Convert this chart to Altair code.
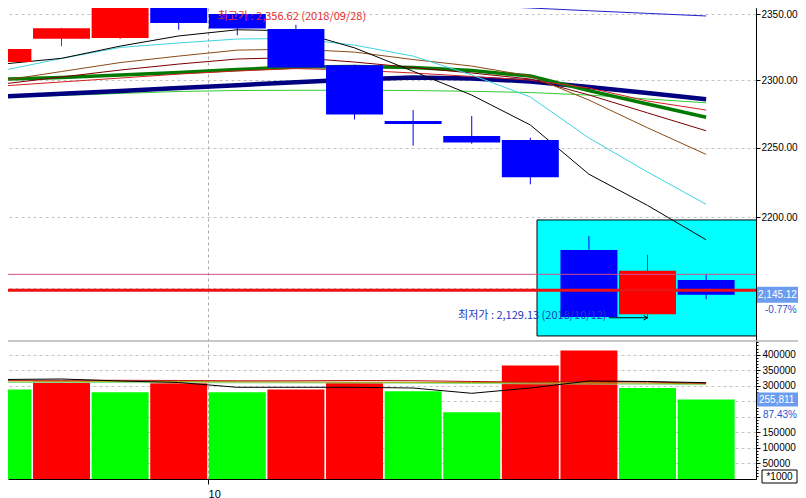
import altair as alt
import pandas as pd

# ---------------- data ----------------
dates = ["2018-09-20", "2018-09-21", "2018-09-27", "2018-09-28", "2018-10-01",
         "2018-10-02", "2018-10-04", "2018-10-05", "2018-10-08", "2018-10-10",
         "2018-10-11", "2018-10-12", "2018-10-15"]
open_p = [2313.6, 2331.2, 2331.7, 2355.0, 2350.0, 2338.6, 2311.2, 2269.7, 2258.7, 2255.7, 2176.5, 2131.5, 2155.4]
high_p = [2334.0, 2339.5, 2355.6, 2356.62, 2350.5, 2341.8, 2311.5, 2277.8, 2273.4, 2257.4, 2186.4, 2173.1, 2159.4]
low_p = [2312.1, 2325.5, 2331.0, 2338.0, 2333.8, 2309.0, 2270.9, 2251.6, 2253.0, 2223.5, 2129.67, 2129.13, 2141.9]
close_p = [2323.4, 2339.17, 2355.43, 2343.07, 2338.88, 2309.57, 2274.49, 2267.52, 2253.83, 2228.61, 2129.67, 2161.85, 2145.12]
volume = [288150, 313900, 279500, 308400, 279500, 288200, 309700, 282700, 215100, 365400, 413700, 292600, 255811]
vol_dir = ["down", "up", "down", "up", "down", "up", "up", "down", "down", "up", "up", "down", "down"]

ma_blue = [2373.3, 2371.2, 2369.2, 2367.1, 2365.0, 2363.0, 2360.9, 2358.8, 2356.7, 2354.6, 2352.5, 2350.5, 2348.5]
ma_lgreen = [2287.5, 2288.6, 2290.1, 2291.6, 2292.3, 2292.5, 2292.5, 2292.3, 2291.7, 2290.8, 2288.9, 2286.0, 2283.2]
ma_navy = [2287.8, 2289.9, 2292.0, 2294.2, 2296.3, 2298.4, 2300.5, 2302.0, 2301.3, 2299.0, 2294.9, 2290.4, 2285.8]
ma_green = [2300.7, 2302.0, 2303.9, 2305.8, 2308.0, 2309.9, 2310.2, 2309.5, 2307.2, 2303.1, 2292.2, 2282.3, 2272.5]
ma_red = [2295.7, 2298.7, 2301.6, 2304.6, 2306.9, 2308.7, 2307.6, 2305.4, 2302.8, 2300.1, 2294.2, 2284.5, 2277.8]
ma_maroon = [2297.2, 2302.4, 2307.6, 2312.1, 2315.9, 2317.0, 2313.6, 2309.5, 2305.4, 2300.9, 2289.0, 2275.7, 2262.5]
ma_brown = [2299.8, 2306.5, 2313.2, 2318.1, 2322.6, 2323.3, 2321.1, 2315.5, 2310.6, 2303.1, 2285.2, 2264.7, 2245.2]
ma_cyan = [2307.3, 2316.3, 2324.6, 2328.0, 2331.0, 2331.4, 2326.4, 2318.1, 2303.9, 2287.5, 2257.2, 2232.4, 2209.1]
ma_black = [2312.1, 2316.4, 2325.6, 2333.3, 2338.0, 2337.2, 2324.3, 2306.7, 2288.9, 2266.8, 2230.8, 2208.3, 2183.8]

vma_lgreen = [310690, 310690, 310370, 310050, 309730, 309410, 309080, 308440, 307470, 306510, 305860, 304900, 303610]
vma_olive = [315520, 314880, 314230, 313590, 312950, 312300, 311660, 311340, 310690, 310370, 309730, 308440, 306510]
vma_red = [317770, 317770, 317770, 317130, 316160, 316160, 317130, 316490, 313910, 312300, 313910, 312300, 308120]
vma_black = [320350, 321960, 315520, 310690, 295240, 295240, 295240, 292980, 275920, 292980, 315520, 313910, 310050]

level_lines = [2148.2, 2159.4]          # thick red line, thin pink line
box_idx = [9.114, 12.9]                 # highlighted box (index units)
box_price = [2197.9, 2116.6]            # highlighted box (price units)
price_ticks = [2150, 2200, 2250, 2300, 2350]
vol_ticks = [50000, 100000, 150000, 200000, 250000, 300000, 350000, 400000]
VOL_PANEL_TOP = 444300                  # volume at the top edge of the volume pane

# ---------------- layout ----------------
W = 748            # plot width
H = 471            # price pane + gap + volume pane
VOL_H = 138        # volume pane height
n = len(dates)
idx = list(range(n))
HALF = 0.486

df = pd.DataFrame({"i": idx, "date": dates, "open": open_p, "high": high_p,
                   "low": low_p, "close": close_p, "volume": volume, "vdir": vol_dir})
df["dir"] = ["up" if c >= o else "down" for o, c in zip(open_p, close_p)]
df["x0"] = df["i"] - HALF
df["x1"] = df["i"] + HALF

month_ticks = [i - 0.5 for i in range(1, n) if dates[i][5:7] != dates[i - 1][5:7]]
month_labels = [dates[i][5:7].lstrip("0") for i in range(1, n) if dates[i][5:7] != dates[i - 1][5:7]]
month_expr = " : ".join([f"datum.value == {v} ? '{l}'" for v, l in zip(month_ticks, month_labels)] + ["''"])

X = alt.Scale(domain=[0.087, 12.851], nice=False, zero=False)
P = alt.Scale(type="log", domain=[2020.46, 2354.6], nice=False, zero=False)
V = alt.Scale(domain=[0, VOL_PANEL_TOP * H / VOL_H], nice=False, zero=False)

AX_FONT = "Liberation Sans"
KR_FONT = "Noto Sans CJK KR"
FS = 10


def xq(f, axis=None):
    return alt.X(f, type="quantitative", scale=X, axis=axis, title=None)


def yp(f, axis=None):
    return alt.Y(f, type="quantitative", scale=P, axis=axis, title=None)


def yv(f, axis=None):
    return alt.Y(f, type="quantitative", scale=V, axis=axis, title=None)


vx_axis = alt.Axis(values=month_ticks, labelExpr=month_expr, grid=True, gridDash=[3, 3],
                   gridColor="#aaaaaa", tickSize=5, tickColor="black", domainColor="black",
                   labelAlign="left", labelFont=AX_FONT, labelFontSize=11, labelColor="black",
                   labelPadding=4, labelFlush=False, labelOverlap=False, title=None)
p_axis = alt.Axis(orient="right", values=price_ticks,
                  labelExpr="datum.value == 2150 ? '' : format(datum.value, '.2f')",
                  grid=True, gridDash=[3, 3], gridColor="#c4c4c4",
                  domainColor="black", tickColor="black", tickSize=4,
                  labelFont=AX_FONT, labelFontSize=FS, labelColor="black",
                  labelPadding=1, labelFlush=False, labelOverlap=False, title=None)
v_axis = alt.Axis(orient="right", values=vol_ticks,
                  labelExpr="(datum.value == 200000 || datum.value == 250000) ? '' : format(datum.value, 'd')",
                  grid=True, gridDash=[3, 3], gridColor="#c4c4c4", tickSize=4, tickColor="black",
                  domainColor="black", labelFont=AX_FONT, labelFontSize=FS, labelColor="black",
                  labelPadding=2, labelFlush=False, labelOverlap=False, title=None)
minor_axis = alt.Axis(orient="right", values=list(range(10000, VOL_PANEL_TOP, 10000)), labels=False,
                      grid=False, domain=False, tickSize=2, tickColor="black", title=None)

dircolor = alt.Color("dir:N", scale=alt.Scale(domain=["up", "down"], range=["#ff0000", "#0000ff"]), legend=None)
vcolor = alt.Fill("vdir:N", scale=alt.Scale(domain=["up", "down"], range=["#ff0000", "#00ff00"]), legend=None)

# ---------------- price pane ----------------
box_df = pd.DataFrame({"a": [box_idx[0]], "b": [box_idx[1]], "p0": [box_price[0]], "p1": [box_price[1]]})
box = alt.Chart(box_df).mark_rect(fill="#00ffff", stroke="black", strokeWidth=1, clip=True).encode(
    x=xq("a"), x2="b:Q", y=yp("p0", p_axis), y2="p1:Q")

ma_specs = [(ma_blue, "#2020cc", 1), (ma_lgreen, "#33cc33", 1), (ma_navy, "#000080", 4.5),
            (ma_green, "#007a00", 3.5), (ma_red, "#d02020", 1), (ma_maroon, "#7a0000", 1),
            (ma_brown, "#8b4a13", 1), (ma_cyan, "#3cd4e4", 1), (ma_black, "#000000", 1)]
lines = []
for vals, col, w in ma_specs:
    d = pd.DataFrame({"i": idx, "v": vals})
    lines.append(alt.Chart(d).mark_line(color=col, strokeWidth=w, clip=True).encode(
        x=xq("i"), y=yp("v")))

wicks = alt.Chart(df).mark_rule(strokeWidth=1, clip=True).encode(
    x=xq("i"), y=yp("low"), y2="high:Q", color=dircolor)
bodies = alt.Chart(df).mark_rect(clip=True).encode(
    x=xq("x0"), x2="x1:Q", y=yp("open"), y2="close:Q", color=dircolor)

lvl_red = alt.Chart(pd.DataFrame({"v": [level_lines[0]]})).mark_rule(color="#ee1111", strokeWidth=3).encode(
    y=yp("v"))
lvl_pink = alt.Chart(pd.DataFrame({"v": [level_lines[1]]})).mark_rule(color="#d05088", strokeWidth=1).encode(
    y=yp("v"))

hi = df.loc[df["high"].idxmax()]
lo = df.loc[df["low"].idxmin()]
hi_df = pd.DataFrame({"i": [hi["i"]], "v": [hi["high"]],
                      "t": [f"최고가 : {hi['high']:,.2f} ({hi['date'].replace('-', '/')})"]})
lo_df = pd.DataFrame({"i": [lo["i"]], "a": [lo["i"] - 0.66], "v": [lo["low"]],
                      "t": [f"최저가 : {lo['low']:,.2f} ({lo['date'].replace('-', '/')})"]})
hi_text = alt.Chart(hi_df).mark_text(align="left", baseline="alphabetic", dx=39, dy=14.5, font=KR_FONT,
                                     fontSize=11, color="#e03030", clip=True).encode(
    x=xq("i"), y=yp("v"), text="t:N")
lo_text = alt.Chart(lo_df).mark_text(align="right", baseline="alphabetic", dx=-41, dy=1, font=KR_FONT,
                                     fontSize=11, color="#2038c0", clip=True).encode(
    x=xq("i"), y=yp("v"), text="t:N")
lo_arrow = alt.Chart(lo_df).mark_rule(color="black", strokeWidth=1, clip=True).encode(
    x=xq("a"), x2="i:Q", y=yp("v"))
lo_head = alt.Chart(lo_df).mark_point(shape="M-1,-0.6L0,0L-1,0.6", filled=False, size=60,
                                      color="black", strokeWidth=1, opacity=1, clip=True).encode(
    x=xq("i"), y=yp("v"))

last = df.iloc[-1]
prev = df.iloc[-2]
cur_df = pd.DataFrame({"v": [last["close"]], "t": [f"{last['close']:,.2f}"],
                       "pct": [f"{(last['close'] / prev['close'] - 1) * 100:.2f}%"]})
cur_band = alt.Chart(cur_df).mark_rule(color="#6b9cf0", strokeWidth=16).encode(
    x=alt.value(W + 1), x2=alt.value(W + 42), y=yp("v"))
cur_text = alt.Chart(cur_df).mark_text(align="left", baseline="middle", color="white", font=AX_FONT,
                                       fontSize=FS).encode(x=alt.value(W + 2), y=yp("v"), text="t:N")
cur_pct = alt.Chart(cur_df).mark_text(align="left", baseline="middle", color="#2a55d0", font=AX_FONT,
                                      fontSize=FS, dy=15).encode(x=alt.value(W + 9), y=yp("v"), text="pct:N")

# ---------------- volume pane ----------------
bars = alt.Chart(df).mark_rect(clip=True).encode(
    x=xq("x0", vx_axis), x2="x1:Q", y=yv("volume", v_axis), y2=alt.datum(0), fill=vcolor)
minor = alt.Chart(df).mark_rect(opacity=0, clip=True).encode(
    x=xq("x0"), x2="x1:Q", y=yv("volume", minor_axis), y2=alt.datum(0))

vlines = []
for vals, col in [(vma_lgreen, "#88dd88"), (vma_olive, "#a0a000"), (vma_red, "#c01010"), (vma_black, "#000000")]:
    d = pd.DataFrame({"i": idx, "v": vals})
    vlines.append(alt.Chart(d).mark_line(color=col, strokeWidth=1, clip=True).encode(
        x=xq("i"), y=yv("v")))

sep = alt.Chart(pd.DataFrame({"v": [VOL_PANEL_TOP]})).mark_rule(color="#b4b4b4", strokeWidth=1.5).encode(
    x=alt.value(0), x2=alt.value(W + 42), y=yv("v"))

vlast = pd.DataFrame({"v": [last["volume"]], "t": [f"{int(last['volume']):,}"],
                      "pct": [f"{last['volume'] / prev['volume'] * 100:.2f}%"]})
v_band = alt.Chart(vlast).mark_rule(color="#6b9cf0", strokeWidth=14).encode(
    x=alt.value(W + 1), x2=alt.value(W + 42), y=yv("v"))
v_text = alt.Chart(vlast).mark_text(align="left", baseline="middle", color="white", font=AX_FONT,
                                    fontSize=FS).encode(x=alt.value(W + 3), y=yv("v"), text="t:N")
v_pct = alt.Chart(vlast).mark_text(align="left", baseline="middle", color="#2a55d0", font=AX_FONT,
                                   fontSize=FS, dy=15).encode(x=alt.value(W + 7), y=yv("v"), text="pct:N")
unit_df = pd.DataFrame({"t": ["*1000"]})
unit_box = alt.Chart(unit_df).mark_rect(fill="white", stroke="black", strokeWidth=1).encode(
    x=alt.value(W + 6), x2=alt.value(W + 41), y=alt.value(H - 9), y2=alt.value(H + 4))
unit_text = alt.Chart(unit_df).mark_text(align="center", baseline="middle", font=AX_FONT, fontSize=FS,
                                         color="black").encode(
    x=alt.value(W + 23.5), y=alt.value(H - 2.5), text="t:N")

chart = alt.layer(
    box, *lines, wicks, bodies, lvl_pink, lvl_red, hi_text, lo_text, lo_arrow, lo_head,
    cur_band, cur_text, cur_pct,
    bars, minor, *vlines, sep, v_band, v_text, v_pct, unit_box, unit_text
).resolve_scale(y="independent", color="independent", fill="independent").resolve_axis(
    x="independent", y="independent"
).properties(
    width=W, height=H, autosize=alt.AutoSizeParams(type="none"),
    padding={"left": 0, "top": 0, "right": 42, "bottom": 19}, background="white"
).configure_view(stroke=None)

chart.save("out.html", embed_options={"renderer": "svg", "actions": False})
